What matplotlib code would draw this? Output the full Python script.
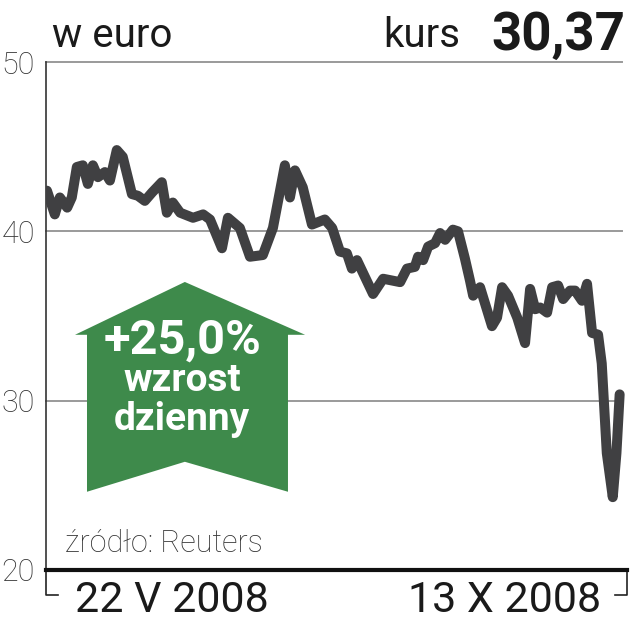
import matplotlib.pyplot as plt
from matplotlib.patches import Polygon

# kurs akcji w euro, kolejne sesje
sesja = [0, 1.7, 2.8, 4.4, 5.4, 6.5, 7.8, 8.9, 10.0, 11.1, 12.6, 13.7, 15.2, 16.5,
         18.5, 19.8, 21.3, 22.9, 25.0, 26.1, 27.4, 29.0, 31.8, 34.0, 35.5, 38.1,
         39.4, 42.0, 44.2, 47.0, 49.2, 51.8, 52.9, 54.0, 55.7, 57.7, 60.5, 62.1,
         63.8, 65.3, 66.4, 67.5, 71.0, 73.2, 76.9, 78.4, 80.1, 80.8, 81.9, 83.0,
         84.5, 85.6, 86.7, 88.4, 89.5, 91.0, 92.1, 92.8, 94.3, 96.9, 98.0, 99.1,
         100.4, 102.4, 104.1, 105.2, 106.3, 107.4, 108.9, 110.0, 111.3, 112.4,
         113.9, 115.0, 116.5, 117.6, 118.7, 120.0, 120.8, 121.9, 123.2, 124.0, 124.7]
kurs = [42.4, 41.0, 42.0, 41.4, 42.0, 43.8, 43.9, 42.8, 43.9, 43.2, 43.5, 43.0, 44.8, 44.4,
        42.2, 42.1, 41.8, 42.3, 42.9, 41.1, 41.7, 41.1, 40.8, 41.0, 40.7, 39.0,
        40.8, 40.2, 38.5, 38.6, 40.2, 43.9, 42.0, 43.6, 42.6, 40.4, 40.7, 40.2,
        38.8, 38.7, 37.8, 38.3, 36.3, 37.2, 37.0, 37.8, 37.9, 38.5, 38.3, 39.1,
        39.3, 39.9, 39.5, 40.1, 40.0, 38.4, 37.1, 36.2, 36.7, 34.4, 34.9, 36.7,
        36.2, 34.9, 33.4, 36.6, 35.4, 35.5, 35.2, 36.7, 36.8, 36.0,
        36.5, 36.5, 35.9, 36.9, 34.0, 33.9, 32.2, 26.9, 24.3, 26.9, 30.37]
y_ticks = [20, 30, 40, 50]
daty = ['22 V 2008', '13 X 2008']

plt.rcParams['font.family'] = ['Roboto', 'DejaVu Sans']

fig = plt.figure(figsize=(6.35, 6.4), dpi=100)
ax = fig.add_axes([0.0724, 0.1094, 0.915, 0.7937])
ax.set_xlim(-0.22, 126.3)
ax.set_ylim(20, 50)

for v in y_ticks[1:]:
    ax.axhline(v, xmin=0, xmax=0.991, color='#9a9a9a', lw=1.4, zorder=1, clip_on=False)

ax.plot(sesja, kurs, color='#404042', lw=7.2, solid_joinstyle='round',
        solid_capstyle='round', zorder=3)

ax.spines['top'].set_visible(False)
ax.spines['right'].set_visible(False)
ax.spines['left'].set_color('#333333')
ax.spines['left'].set_linewidth(1.2)
ax.spines['bottom'].set_color('#111111')
ax.spines['bottom'].set_linewidth(3)
ax.set_xticks([])
ax.set_yticks(y_ticks)
ax.set_yticklabels([str(v) for v in y_ticks], fontsize=22, color='#333333',
                   fontweight='light')
ax.tick_params(axis='y', length=0, pad=8)

# klamra pod osia
ax.plot([0, 0, 0.0207], [0, -0.049, -0.049], transform=ax.transAxes,
        color='#222222', lw=1.2, clip_on=False)
ax.plot([0.979, 1.0, 1.0], [-0.049, -0.049, 0], transform=ax.transAxes,
        color='#222222', lw=1.2, clip_on=False)

# strzalka
arrow = Polygon([(0.239, 0.567), (0.446, 0.463), (0.4165, 0.463), (0.4165, 0.154),
                 (0.239, 0.213), (0.0706, 0.154), (0.0706, 0.463), (0.050, 0.463)],
                closed=True, transform=ax.transAxes, facecolor='#3e8a4b',
                edgecolor='none', zorder=4)
ax.add_patch(arrow)

fig.text(0.287, 0.448, '+25,0%', color='white', fontsize=35, fontweight='bold',
         ha='center', va='baseline', zorder=5)
fig.text(0.287, 0.389, 'wzrost', color='white', fontsize=28, fontweight='bold',
         ha='center', va='baseline', zorder=5)
fig.text(0.287, 0.328, 'dzienny', color='white', fontsize=28, fontweight='bold',
         ha='center', va='baseline', zorder=5)

fig.text(0.082, 0.927, 'w euro', fontsize=29, color='#1a1a1a', va='baseline')
fig.text(0.725, 0.927, 'kurs', fontsize=29, color='#1a1a1a', va='baseline', ha='right')
fig.text(0.985, 0.922, '30,37', fontsize=38, color='#1a1a1a', fontweight='bold',
         va='baseline', ha='right')

fig.text(0.102, 0.1375, 'źródło: Reuters', fontsize=22, color='#333333',
         fontweight='light', va='baseline')
fig.text(0.118, 0.044, daty[0], fontsize=31, color='#1a1a1a', va='baseline')
fig.text(0.946, 0.044, daty[1], fontsize=31, color='#1a1a1a', va='baseline', ha='right')

fig.savefig('out.png', dpi=100, facecolor='white')
